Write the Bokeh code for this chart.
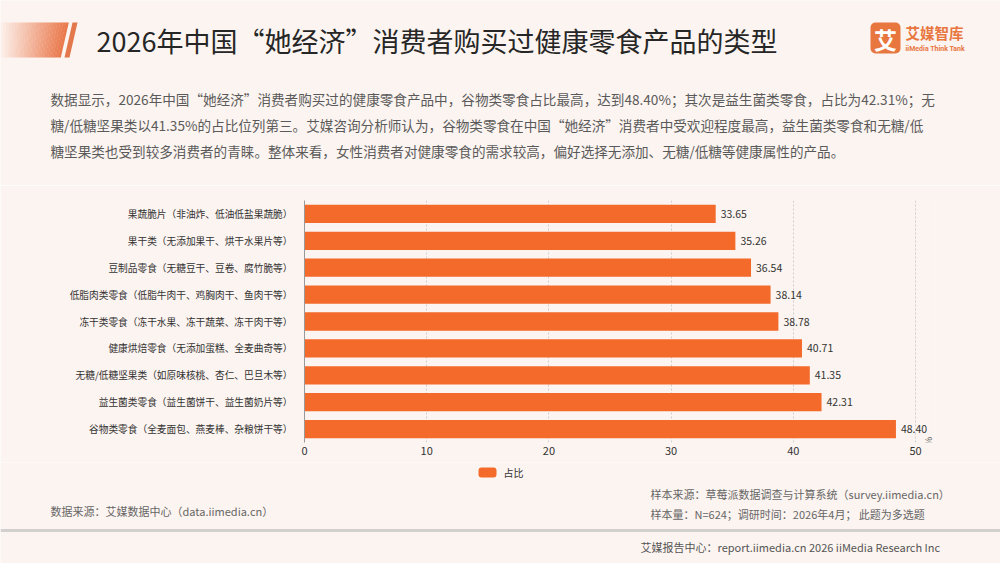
from bokeh.plotting import figure
from bokeh.models import Range1d, FactorRange, FixedTicker, ColumnDataSource
from bokeh.layouts import column
from bokeh.core.properties import value
from bokeh.embed import file_html
from bokeh.resources import INLINE

# ---------------- data ----------------
categories = [
    "果蔬脆片（非油炸、低油低盐果蔬脆）",
    "果干类（无添加果干、烘干水果片等）",
    "豆制品零食（无糖豆干、豆卷、腐竹脆等）",
    "低脂肉类零食（低脂牛肉干、鸡胸肉干、鱼肉干等）",
    "冻干类零食（冻干水果、冻干蔬菜、冻干肉干等）",
    "健康烘焙零食（无添加蛋糕、全麦曲奇等）",
    "无糖/低糖坚果类（如原味核桃、杏仁、巴旦木等）",
    "益生菌类零食（益生菌饼干、益生菌奶片等）",
    "谷物类零食（全麦面包、燕麦棒、杂粮饼干等）",
]
shares = [33.65, 35.26, 36.54, 38.14, 38.78, 40.71, 41.35, 42.31, 48.40]
x_ticks = [0, 10, 20, 30, 40, 50]
series_name = "占比"
unit_label = "%"

title_text = "2026年中国“她经济”消费者购买过健康零食产品的类型"
desc_lines = [
    "数据显示，2026年中国“她经济”消费者购买过的健康零食产品中，谷物类零食占比最高，达到48.40%；其次是益生菌类零食，占比为42.31%；无",
    "糖/低糖坚果类以41.35%的占比位列第三。艾媒咨询分析师认为，谷物类零食在中国“她经济”消费者中受欢迎程度最高，益生菌类零食和无糖/低",
    "糖坚果类也受到较多消费者的青睐。整体来看，女性消费者对健康零食的需求较高，偏好选择无添加、无糖/低糖等健康属性的产品。",
]
source_left = "数据来源：艾媒数据中心（data.iimedia.cn）"
source_right = [
    "样本来源：草莓派数据调查与计算系统（survey.iimedia.cn）",
    "样本量：N=624；调研时间：2026年4月； 此题为多选题",
]
bottom_text = "艾媒报告中心：report.iimedia.cn    2026 iiMedia Research Inc"

# ---------------- style ----------------
FONT = "Noto Sans CJK SC"
BG = "#fcf4f0"
BAR = "#f36a2a"
ORANGE = "#e8763f"


def canvas(h):
    p = figure(width=1000, height=h, x_range=Range1d(0, 1000), y_range=Range1d(h, 0),
               x_axis_type=None, y_axis_type=None, output_backend="svg",
               toolbar_location=None, min_border=0, frame_align=False)
    p.grid.visible = False
    p.outline_line_color = None
    p.background_fill_color = BG
    p.border_fill_color = BG
    return p


def hex2rgb(h):
    h = h.lstrip("#")
    return tuple(int(h[i:i + 2], 16) for i in (0, 2, 4))


def mix(c1, c2, t):
    a, b = hex2rgb(c1), hex2rgb(c2)
    return "#%02x%02x%02x" % tuple(int(round(a[i] + (b[i] - a[i]) * t)) for i in range(3))


# ---------------- header ----------------
H1 = 185
head = canvas(H1)
N = 24
xs, ys, cols = [], [], []
for i in range(N):
    t0, t1 = 68 * i / N, 68 * (i + 1) / N
    b0, b1 = 60 * i / N, 60 * (i + 1) / N
    xs.append([t0, t1 + 0.3, b1 + 0.3, b0])
    ys.append([22, 22, 57, 57])
    cols.append(mix("#fcf1ec", "#e9774a", (i + 0.5) / N))
head.patches(xs, ys, fill_color=cols, line_color=None)
head.patch([72, 77, 69, 64], [22, 22, 57, 57], fill_color="#e2784c", line_color=None)
head.text(x=[96], y=[40], text=[title_text], text_font=value(FONT), text_font_size="27px",
          text_baseline="middle", text_align="left", text_color="#262626")
# logo
head.rect(x=[885], y=[37.5], width=30, height=31, fill_color=ORANGE, line_color=None,
          border_radius=5)
head.text(x=[885], y=[38.5], text=["艾"], text_font=value(FONT), text_font_size="23px",
          text_font_style="bold", text_baseline="middle", text_align="center", text_color="white")
head.text(x=[905], y=[32], text=["艾媒智库"], text_font=value(FONT), text_font_size="14.5px",
          text_font_style="bold", text_baseline="middle", text_align="left", text_color=ORANGE)
head.text(x=[905], y=[48], text=["iiMedia Think Tank"], text_font=value("Roboto"),
          text_font_size="7px", text_font_style="bold", text_baseline="middle", text_align="left",
          text_color=ORANGE)
head.text(x=[50, 50, 50], y=[98, 124, 150], text=desc_lines, text_font=value(FONT),
          text_font_size="13.6px", text_baseline="middle", text_align="left", text_color="#5a5a5a")

# ---------------- chart ----------------
PX_PER_UNIT = (915 - 304) / 50.0
left_b, right_b, top_b, bot_b = 304, 65, 15, 20
frame_w = 1000 - left_b - right_b
x_end = frame_w / PX_PER_UNIT
H2 = 277
factors = list(reversed(categories))
chart = figure(width=1000, height=H2, y_range=FactorRange(factors=factors),
               x_range=Range1d(0, x_end), output_backend="svg", toolbar_location=None,
               min_border_left=left_b, min_border_right=right_b, min_border_top=top_b,
               min_border_bottom=bot_b, frame_align=False)
chart.background_fill_color = BG
chart.border_fill_color = BG
chart.outline_line_color = None
src = ColumnDataSource(dict(cat=categories, val=shares, lab=[f"{v:.2f}" for v in shares]))
chart.hbar(y="cat", right="val", left=0, height=0.68, source=src, fill_color=BAR,
           line_color=None, legend_label=series_name)
chart.text(x="val", y="cat", text="lab", source=src, x_offset=5, text_font=value(FONT),
           text_font_size="10.5px", text_baseline="middle", text_align="left",
           text_color="#333333")
chart.text(x=[x_end - 0.6], y=[categories[-1]], text=[unit_label], y_offset=12,
           angle=-1.5708, text_font=value(FONT), text_font_size="9px", text_baseline="middle",
           text_align="center", text_color="#555555")
chart.legend.visible = False
chart.xaxis.ticker = FixedTicker(ticks=x_ticks)
chart.xaxis.axis_line_color = None
chart.xaxis.major_tick_line_color = None
chart.xaxis.minor_tick_line_color = None
chart.xaxis.major_tick_out = 0
chart.xaxis.major_label_standoff = 4
chart.xaxis.major_label_text_font = FONT
chart.xaxis.major_label_text_font_size = "11px"
chart.xaxis.major_label_text_color = "#333333"
chart.yaxis.axis_line_color = "#999999"
chart.yaxis.major_tick_line_color = None
chart.yaxis.minor_tick_line_color = None
chart.yaxis.major_tick_out = 0
chart.yaxis.major_label_standoff = 12
chart.yaxis.major_label_text_font = FONT
chart.yaxis.major_label_text_font_size = "9.7px"
chart.yaxis.major_label_text_color = "#333333"
chart.ygrid.visible = False
chart.xgrid.grid_line_color = "#cfcfcf"
chart.xgrid.grid_line_dash = "2 2"

# ---------------- footer ----------------
H3 = 563 - H1 - H2
foot = canvas(H3)
top0 = H1 + H2
foot.rect(x=[487], y=[472 - top0], width=18, height=10, fill_color=BAR, line_color=None,
          border_radius=3)
foot.text(x=[503], y=[472 - top0], text=[series_name], text_font=value(FONT),
          text_font_size="10px", text_baseline="middle", text_align="left", text_color="#333333")
foot.text(x=[50], y=[510 - top0], text=[source_left], text_font=value(FONT),
          text_font_size="11px", text_baseline="middle", text_align="left", text_color="#666666")
foot.text(x=[650, 650], y=[493 - top0, 513 - top0], text=source_right, text_font=value(FONT),
          text_font_size="11px", text_baseline="middle", text_align="left", text_color="#666666")
foot.rect(x=[500], y=[530 - top0], width=1000, height=3, fill_color="#d2d0ce", line_color=None)
foot.text(x=[640], y=[546 - top0], text=[bottom_text], text_font=value(FONT),
          text_font_size="11px", text_baseline="middle", text_align="left", text_color="#555555")

layout = column(head, chart, foot, spacing=0)
open("out.html", "w").write(file_html(layout, INLINE))
